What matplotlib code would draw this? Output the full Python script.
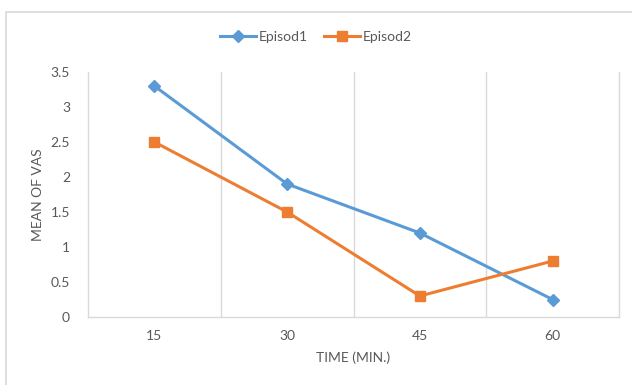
import numpy as np
import matplotlib.pyplot as plt
from matplotlib.patches import Rectangle

plt.rcParams['font.family'] = ['Lato', 'DejaVu Sans']

times = ['15', '30', '45', '60']
episod1 = [3.3, 1.9, 1.2, 0.25]
episod2 = [2.5, 1.5, 0.3, 0.8]

grey = '#d9d9d9'
text_col = '#595959'

fig = plt.figure(figsize=(6.32, 3.85), dpi=100)
ax = fig.add_axes([88 / 632, 1 - 317 / 385, (619 - 88) / 632, (317 - 72) / 385])

x = np.arange(len(times))
ax.plot(x, episod1, color='#5B9BD5', lw=2.2, marker='D', ms=6.5, label='Episod1')
ax.plot(x, episod2, color='#ED7D31', lw=2.2, marker='s', ms=7.5, label='Episod2')

ax.set_xlim(-0.5, len(times) - 0.5)
ax.set_ylim(0, 3.5)
ax.set_xticks(x)
ax.set_xticklabels(times)
ax.set_yticks(np.arange(0, 3.51, 0.5))
ax.set_yticklabels(['0', '0.5', '1', '1.5', '2', '2.5', '3', '3.5'])
ax.tick_params(axis='both', length=0, colors=text_col, labelsize=10)
ax.tick_params(axis='y', pad=13)
ax.tick_params(axis='x', pad=9)

# vertical separators between categories
for b in x[:-1] + 0.5:
    ax.axvline(b, color=grey, lw=1, zorder=0)

for side in ['left', 'right', 'bottom']:
    ax.spines[side].set_color(grey)
    ax.spines[side].set_linewidth(1)
ax.spines['top'].set_visible(False)

ax.set_xlabel('TIME (MIN.)', color=text_col, fontsize=10, labelpad=7)
ax.set_ylabel('MEAN OF VAS', color=text_col, fontsize=10, labelpad=5)

leg = fig.legend(loc='center', bbox_to_anchor=(0.5, 1 - 37 / 385), ncol=2,
                 frameon=False, fontsize=10, handlelength=2.6,
                 handletextpad=0.2, columnspacing=1.2)
for t in leg.get_texts():
    t.set_color(text_col)

# chart frame
fig.patches.append(Rectangle((6 / 632, -0.1), 1.0, 1.1 - 12 / 385,
                             transform=fig.transFigure, fill=False,
                             edgecolor=grey, lw=1.2))

fig.savefig('out.png', dpi=100)
